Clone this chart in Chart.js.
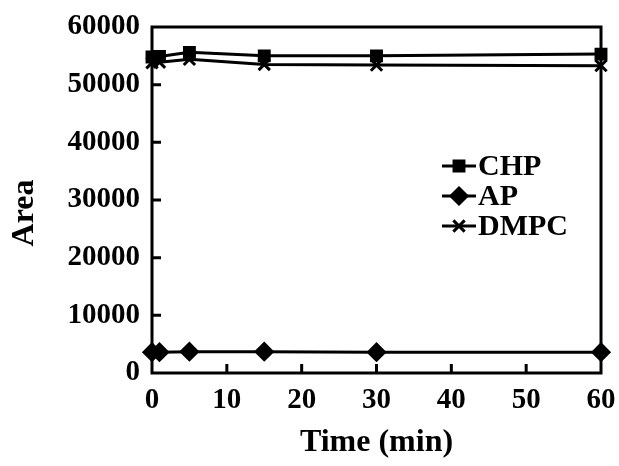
<!DOCTYPE html>
<html lang="en">
<head>
    <meta charset="UTF-8">
    <title>Area vs Time</title>
    <script src="https://cdn.jsdelivr.net/npm/chart.js"></script>
    <style>
        body { margin: 0; background: #fff; }
        #box { width: 619px; height: 466px; }
    </style>
</head>
<body>
    <div id="box"><canvas id="grafico"></canvas></div>

<script>
    // dados
    var tempos = [0, 1, 5, 15, 30, 60];
    var chp = [54800, 54900, 55600, 55000, 55000, 55300];
    var ap = [3600, 3600, 3700, 3700, 3600, 3600];
    var dmpc = [53800, 53900, 54400, 53500, 53400, 53300];
    var xTicks = [0, 10, 20, 30, 40, 50, 60];
    var yTicks = [0, 10000, 20000, 30000, 40000, 50000, 60000];

    var fonte = "'Liberation Serif', 'Times New Roman', serif";
    Chart.defaults.color = '#000';
    Chart.defaults.font.family = fonte;
    Chart.defaults.font.weight = 'bold';

    function pontos(ys) {
        return tempos.map(function (t, i) { return { x: t, y: ys[i] }; });
    }

    var series = [
        { label: 'CHP', data: chp, style: 'rect', r: 7, order: 1 },
        { label: 'AP', data: ap, style: 'rectRot', r: 8, order: 2 },
        { label: 'DMPC', data: dmpc, style: 'crossRot', r: 8, order: 3 }
    ];

    // moldura, ticks para dentro, titulo do eixo y e legenda
    var extras = {
        id: 'extras',
        afterDatasetsDraw: function (chart) {
            var ctx = chart.ctx, a = chart.chartArea;
            var sx = chart.scales.x, sy = chart.scales.y;
            ctx.save();
            ctx.strokeStyle = '#000';
            ctx.lineWidth = 3;
            ctx.strokeRect(a.left, a.top, a.right - a.left, a.bottom - a.top);
            ctx.beginPath();
            xTicks.slice(1, -1).forEach(function (v) {
                var px = sx.getPixelForValue(v);
                ctx.moveTo(px, a.bottom);
                ctx.lineTo(px, a.bottom - 9);
            });
            yTicks.slice(1, -1).forEach(function (v) {
                var py = sy.getPixelForValue(v);
                ctx.moveTo(a.left, py);
                ctx.lineTo(a.left + 9, py);
            });
            ctx.stroke();

            ctx.fillStyle = '#000';
            // titulo y
            ctx.save();
            ctx.translate(25, 213);
            ctx.rotate(-Math.PI / 2);
            ctx.font = 'bold 32px ' + fonte;
            ctx.textAlign = 'center';
            ctx.textBaseline = 'middle';
            ctx.fillText('Area', 0, 0);
            ctx.restore();

            // legenda
            ctx.font = 'bold 30px ' + fonte;
            ctx.textBaseline = 'middle';
            series.forEach(function (s, i) {
                var y = 166 + i * 30;
                ctx.beginPath();
                ctx.moveTo(442, y);
                ctx.lineTo(476, y);
                ctx.stroke();
                Chart.helpers.drawPoint(ctx, { pointStyle: s.style, radius: s.r, borderWidth: 3 }, 459, y);
                ctx.fill();
                ctx.fillText(s.label, 478, y + 1);
            });
            ctx.restore();
        }
    };

    var config = {
        type: 'line',
        data: {
            datasets: series.map(function (s) {
                return {
                    label: s.label,
                    data: pontos(s.data),
                    borderColor: '#000',
                    backgroundColor: '#000',
                    borderWidth: 3,
                    pointStyle: s.style,
                    pointRadius: s.r,
                    pointBorderWidth: 3,
                    pointBackgroundColor: '#000',
                    pointBorderColor: '#000',
                    tension: 0,
                    clip: false,
                    order: s.order
                };
            })
        },
        options: {
            responsive: true,
            maintainAspectRatio: false,
            animation: false,
            layout: { padding: { top: 27, right: 18, left: 0, bottom: 0 } },
            plugins: {
                legend: { display: false },
                tooltip: { enabled: false }
            },
            scales: {
                x: {
                    type: 'linear',
                    min: 0,
                    max: 60,
                    afterBuildTicks: function (scale) {
                        scale.ticks = xTicks.map(function (v) { return { value: v }; });
                    },
                    afterFit: function (scale) {
                        scale.height = 93;
                        scale.paddingLeft = 0;
                        scale.paddingRight = 0;
                    },
                    grid: { display: false, drawTicks: false },
                    border: { display: false },
                    ticks: { padding: 10, font: { size: 29, weight: 'bold' }, color: '#000' },
                    title: {
                        display: true,
                        text: 'Time (min)',
                        font: { size: 32, weight: 'bold' },
                        color: '#000',
                        padding: { top: 14 }
                    }
                },
                y: {
                    min: 0,
                    max: 60000,
                    afterBuildTicks: function (scale) {
                        scale.ticks = yTicks.map(function (v) { return { value: v }; });
                    },
                    afterFit: function (scale) {
                        scale.width = 152;
                        scale.paddingTop = 0;
                        scale.paddingBottom = 0;
                    },
                    grid: { display: false, drawTicks: false },
                    border: { display: false },
                    ticks: {
                        padding: 12,
                        font: { size: 29, weight: 'bold' },
                        color: '#000',
                        callback: function (v) { return String(v); }
                    },
                    title: { display: false }
                }
            }
        },
        plugins: [extras]
    };

    var myChart = new Chart(document.getElementById('grafico'), config);
</script>
</body>
</html>
